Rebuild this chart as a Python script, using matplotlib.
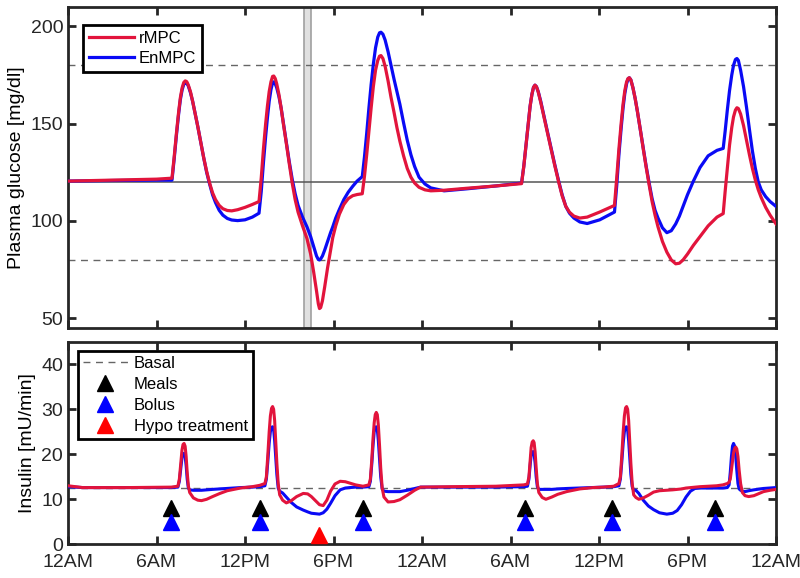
import matplotlib
matplotlib.use("Agg")
import matplotlib.pyplot as plt
from matplotlib.lines import Line2D

plt.rcParams['font.family'] = ['Liberation Sans', 'DejaVu Sans']

# glucose traces (hours, mg/dl)
t_glu = [0, 3, 6, 7.05,
         7.2, 7.35, 7.5, 7.62, 7.74, 7.85, 7.95, 8.05, 8.15, 8.3, 8.45, 8.6, 8.8, 9.0, 9.2, 9.4, 9.6, 9.8, 10.0, 10.25,
         10.5, 10.8, 11.1, 11.5, 12.0, 12.5, 12.95,
         13.1, 13.25, 13.4, 13.52, 13.64, 13.76, 13.87, 13.95, 14.05, 14.15, 14.3, 14.45, 14.6, 14.8, 15.0, 15.2, 15.4,
         15.6, 15.9, 16.2, 16.45, 16.65, 16.85, 16.97, 17.05, 17.13, 17.25, 17.4, 17.6, 17.8, 17.95, 18.15, 18.4, 18.7,
         19.0, 19.3, 19.6, 19.95,
         20.1, 20.25, 20.4, 20.55, 20.7, 20.85, 21.0, 21.12, 21.22, 21.35, 21.5, 21.7, 21.9, 22.1, 22.3, 22.5, 22.75,
         23.0, 23.25, 23.5, 23.8, 24.2, 24.6, 25.5, 27.0, 29.0, 30.75,
         30.9, 31.05, 31.2, 31.33, 31.45, 31.56, 31.66, 31.76, 31.88, 32.05, 32.25, 32.5, 32.75, 33.0, 33.25, 33.5,
         33.75, 34.0, 34.3, 34.7, 35.2, 36.05, 37.05,
         37.2, 37.35, 37.5, 37.63, 37.75, 37.87, 37.97, 38.06, 38.16, 38.3, 38.45, 38.6, 38.8, 39.0, 39.2, 39.4, 39.6,
         39.8, 40.0, 40.3, 40.6, 40.9, 41.2, 41.45, 41.7, 42.0, 42.4, 42.85, 43.4, 44.0, 44.42,
         44.55, 44.7, 44.85, 45.0, 45.12, 45.25, 45.35, 45.45, 45.6, 45.8, 46.0, 46.2, 46.4, 46.6, 46.8, 47.0, 47.3,
         47.6, 48.0]
glu_rmpc = [120.5, 121, 121.5, 122,
            133, 145, 156, 163.5, 168.5, 171.2, 172, 171.6, 170, 166.5, 161.5, 156, 148.5, 140.5, 132.5, 125.5, 119.5,
            114.5, 111, 108, 106.3, 105.4, 105.2, 105.8, 107, 108.5, 110,
            122, 137, 150, 159, 166.5, 171.5, 174.3, 174.5, 173.2, 170.5, 165, 158, 150, 140, 129.5, 119.5, 111,
            104.5, 97.5, 91, 83, 74, 64, 57.5, 55, 55.5, 59, 66, 76, 85, 91.5, 97.5, 103.5, 108.5, 111.5, 113, 113.6, 114,
            123, 134, 146, 158, 169, 177.5, 182.5, 184.7, 185, 183.5, 179.5, 172, 163.5, 156, 148, 141, 133.5,
            127, 122.5, 119.5, 117.3, 116, 115.5, 115.8, 116.8, 118, 119.2,
            128, 139, 150, 159, 165, 168.7, 169.8, 169, 166.3, 161, 154, 145.5, 137, 128.5, 120.5, 113,
            107.5, 104.5, 102.5, 101.5, 102, 104.6, 108,
            122, 137, 150, 160, 167, 171.5, 173.3, 173.6, 172.5, 168.5, 163, 156.5, 147, 137, 127.5, 118.5, 110,
            103, 97, 89.5, 84, 80, 78, 78.3, 80, 83, 87.5, 92, 97.5, 102, 103.8,
            115, 127, 139, 148, 153.5, 157, 158.2, 157.8, 155, 149, 141.5, 134, 127, 121, 116, 112, 107,
            103, 98.5]
glu_enmpc = [120.5, 120.8, 121, 121,
             132, 144, 155, 162.5, 167.5, 170.2, 171, 170.8, 169.5, 166, 161.5, 156, 148.5, 140.5, 132.5, 125, 119,
             113.5, 109.5, 105.5, 103, 101.3, 100.5, 100.2, 100.6, 102, 104,
             115, 130, 143.5, 153, 161.5, 167.5, 171, 171.5, 170.5, 168.5, 164, 158, 150.5, 140.5, 130.5, 121.5, 114,
             108, 102, 97, 92, 87, 82, 80.2, 80, 80.5, 82, 85, 89.5, 94, 97, 101.5, 106, 111, 114.8, 117.8, 120.5, 122.8,
             133, 145, 158, 170, 180.5, 189, 194.5, 196.7, 197, 196, 193, 187, 180, 173, 166.5, 160, 150.5,
             141.5, 134, 128, 122.5, 119, 117, 115.5, 116.5, 118, 119.5,
             128, 139, 150, 159, 165, 168.7, 169.8, 169, 166.5, 161.5, 154.5, 146, 137.5, 129, 121, 113.5,
             107.5, 104, 101.5, 99.5, 98.7, 100.6, 104.6,
             118, 134, 147.5, 158, 165.5, 170.5, 173, 173.6, 172.5, 168.5, 163, 156.5, 147, 137.5, 128, 119.5, 111.5,
             105.5, 101.5, 96.5, 94, 95, 98.5, 102.5, 107.5, 113.5, 120.5, 127.5, 133.5, 136.3, 137.3,
             146, 157, 167, 175, 180, 183, 183.5, 182.5, 177.5, 169, 158.5, 147, 136, 127, 120, 116, 112.5,
             110, 107.5]

# insulin traces (hours, mU/min)
t_ins = [0, 1, 4, 7.0, 7.45,
         7.55, 7.65, 7.73, 7.8, 7.87, 7.94, 8.01, 8.08, 8.16, 8.25,
         8.5, 8.8, 9.05, 9.4, 9.8, 10.3, 10.8, 11.7, 12.5, 13.0, 13.35,
         13.45, 13.55, 13.64, 13.72, 13.8, 13.87, 13.94, 14.01, 14.08, 14.16, 14.25, 14.35,
         14.55, 14.8, 15.1, 15.5, 15.95, 16.25, 16.5, 16.8, 17.05, 17.3, 17.55, 17.8, 18.1, 18.45, 18.8, 19.1, 19.5,
         20.0, 20.4,
         20.5, 20.6, 20.68, 20.76, 20.83, 20.9, 20.97, 21.04, 21.12, 21.2, 21.3, 21.42,
         21.7, 22.1, 22.5, 23.0, 23.5, 23.9, 26, 29, 30.9, 31.15,
         31.25, 31.33, 31.4, 31.47, 31.54, 31.6, 31.67, 31.74, 31.82, 31.92,
         32.15, 32.4, 32.8, 33.2, 33.8, 34.7, 35.6, 36.3, 37.0, 37.35,
         37.45, 37.55, 37.64, 37.72, 37.8, 37.87, 37.94, 38.01, 38.08, 38.16, 38.25, 38.35,
         38.5, 38.7, 39.0, 39.35, 39.7, 40.1, 40.6, 41.0, 41.3, 41.6, 41.9, 42.2, 42.5, 42.85, 43.4, 43.97, 44.4, 44.7,
         44.82, 44.9, 44.98, 45.05, 45.12, 45.2, 45.27, 45.34, 45.42, 45.5, 45.6, 45.72,
         45.9, 46.15, 46.5, 47.15, 47.6, 48.0]
ins_rmpc = [13.0, 12.6, 12.6, 12.7, 12.9,
            14.5, 18, 21, 22.2, 22.4, 21.8, 19.5, 16, 13, 11.5,
            10.3, 9.8, 9.7, 10.0, 10.6, 11.3, 11.9, 12.5, 12.8, 13.1, 13.5,
            15, 20, 25, 28.5, 30.2, 30.6, 30, 27.5, 23, 18, 13.5, 11,
            9.8, 9.2, 9.6, 10.6, 11.3, 11.2, 10.6, 9.6, 8.8, 8.6, 9.8, 11.8, 13.4, 14.0, 13.9, 13.6, 13.2,
            12.9, 13.2,
            14.5, 19, 23.5, 27, 28.8, 29.3, 28.8, 26.5, 22, 17, 12.5, 10.5,
            9.4, 9.5, 9.9, 10.9, 12.0, 12.7, 12.8, 12.9, 13.2, 13.4,
            15, 18.5, 21.5, 22.7, 23.0, 22.6, 20.5, 17, 13.5, 11.5,
            10.4, 10.0, 10.5, 11.1, 11.7, 12.3, 12.6, 12.7, 12.9, 13.5,
            15, 20, 25, 28.5, 30.3, 30.6, 30, 27.5, 23, 18, 13.5, 11,
            10.4, 10.0, 10.3, 10.9, 11.6, 11.9, 12.0, 12.1, 12.2, 12.3, 12.5, 12.6, 12.7, 12.8, 12.9, 13.0, 13.2, 13.5,
            13.8, 14.5, 16.5, 18.5, 20.3, 21.3, 21.6, 21.2, 19.5, 16.5, 13.5, 11.5,
            10.8, 10.6, 10.8, 11.7, 12.0, 12.2]
ins_enmpc = [12.8, 12.6, 12.6, 12.6, 12.7,
             14, 17, 19.3, 20.1, 20.2, 19.5, 17.5, 14.5, 12.5, 12.1,
             12.0, 12.0, 12.0, 12.1, 12.2, 12.3, 12.4, 12.6, 12.7, 12.8, 13.0,
             14.5, 18.5, 22.5, 25, 26, 26.1, 25.5, 23, 19.5, 15.5, 12.5, 11.8,
             11.4, 10.5, 9.4, 8.3, 7.6, 7.2, 6.9, 6.8, 6.7, 7.0, 7.8, 9.1, 10.8, 12.1, 12.5, 12.6, 12.7,
             12.7, 12.8,
             14, 18, 22, 25, 26, 26.1, 25.5, 23, 19, 15, 12.3, 11.8,
             11.7, 11.7, 11.7, 12.0, 12.4, 12.7, 12.7, 12.7, 12.8, 12.9,
             14.5, 17.5, 19.8, 20.5, 20.6, 20, 18, 15, 12.8, 12.2,
             12.2, 12.2, 12.2, 12.3, 12.4, 12.5, 12.6, 12.7, 12.8, 13.0,
             14.5, 18.5, 22.5, 25, 26, 26.1, 25.5, 23, 19.5, 15.5, 12.8, 12.0,
             12.0, 11.3, 9.8, 8.5, 7.7, 7.0, 6.7, 6.9, 7.5, 8.8, 10.5, 11.8, 12.4, 12.5, 12.5, 12.5, 12.5, 12.6,
             13.2, 16, 19.5, 21.8, 22.4, 21.8, 19.5, 16.5, 13.5, 12.3, 12.0, 11.8,
             11.7, 11.9, 12.1, 12.4, 12.5, 12.6]

basal = 12.6
meal_t = [7, 13, 20, 31, 36.85, 43.85]
bolus_t = [7, 13, 20, 31, 36.85, 43.85]
hypo_t = [17]

xticks = [0, 6, 12, 18, 24, 30, 36, 42, 48]
xlabels = ['12AM', '6AM', '12PM', '6PM', '12AM', '6AM', '12PM', '6PM', '12AM']

red = '#E2143C'
blue = '#0A0AF5'

fig = plt.figure(figsize=(8, 5.78), dpi=100)
ax1 = fig.add_axes([0.085, 0.4325, 0.885, 0.5555])
ax2 = fig.add_axes([0.085, 0.0583, 0.885, 0.3505])

# glucose panel
ax1.axvspan(16.0, 16.45, facecolor='#e0e0e0', edgecolor='#a0a0a0', lw=1.2, zorder=1)
ax1.axhline(180, color='#666666', ls=(0, (5, 4)), lw=1, zorder=2)
ax1.axhline(80, color='#666666', ls=(0, (5, 4)), lw=1, zorder=2)
ax1.axhline(120, color='#555555', lw=1.1, zorder=2)
ax1.plot(t_glu, glu_enmpc, color=blue, lw=2.3, label='EnMPC', zorder=3, solid_joinstyle='round')
ax1.plot(t_glu, glu_rmpc, color=red, lw=2.3, label='rMPC', zorder=4, solid_joinstyle='round')
ax1.set_xlim(0, 48)
ax1.set_ylim(45, 210)
ax1.set_yticks([50, 100, 150, 200])
ax1.set_xticks(xticks)
ax1.set_xticklabels([])
ax1.set_ylabel('Plasma glucose [mg/dl]', fontsize=14)
h, l = ax1.get_legend_handles_labels()
leg1 = ax1.legend([h[1], h[0]], [l[1], l[0]], loc='upper left', bbox_to_anchor=(0.021, 0.944),
                  fancybox=False, edgecolor='black', fontsize=12, handlelength=2.7,
                  borderpad=0.35, labelspacing=0.3, handletextpad=0.3, borderaxespad=0, framealpha=1)
leg1.get_frame().set_linewidth(2)

# insulin panel
ax2.axhline(basal, color='#666666', ls=(0, (5, 4)), lw=1, zorder=2)
ax2.plot(t_ins, ins_enmpc, color=blue, lw=2.2, zorder=3, solid_joinstyle='round')
ax2.plot(t_ins, ins_rmpc, color=red, lw=2.2, zorder=4, solid_joinstyle='round')
ax2.plot(meal_t, [8] * len(meal_t), ls='none', marker='^', ms=11, color='black', zorder=5)
ax2.plot(bolus_t, [5] * len(bolus_t), ls='none', marker='^', ms=11, color='#0000ff', zorder=5)
ax2.plot(hypo_t, [2] * len(hypo_t), ls='none', marker='^', ms=11, color='#ff0000', zorder=5)
ax2.set_xlim(0, 48)
ax2.set_ylim(0, 45)
ax2.set_yticks([0, 10, 20, 30, 40])
ax2.set_xticks(xticks)
ax2.set_xticklabels(xlabels)
ax2.set_ylabel('Insulin [mU/min]', fontsize=14)
handles = [Line2D([], [], color='#666666', ls=(0, (5, 4)), lw=1),
           Line2D([], [], ls='none', marker='^', ms=11, color='black'),
           Line2D([], [], ls='none', marker='^', ms=11, color='#0000ff'),
           Line2D([], [], ls='none', marker='^', ms=11, color='#ff0000')]
leg2 = ax2.legend(handles, ['Basal', 'Meals', 'Bolus', 'Hypo treatment'], loc='upper left',
                  bbox_to_anchor=(0.014, 0.955), fancybox=False, edgecolor='black', fontsize=12,
                  handlelength=2.7, borderpad=0.3, labelspacing=0.37, handletextpad=0.35,
                  borderaxespad=0, framealpha=1)
leg2.get_frame().set_linewidth(2)

for ax in (ax1, ax2):
    for s in ax.spines.values():
        s.set_linewidth(2)
        s.set_color('#262626')
    ax.tick_params(direction='in', top=True, right=True, length=6, width=2, labelsize=14,
                   color='#262626', labelcolor='#262626')
ax2.tick_params(axis='x', pad=7)

fig.savefig('out.png', dpi=100)
